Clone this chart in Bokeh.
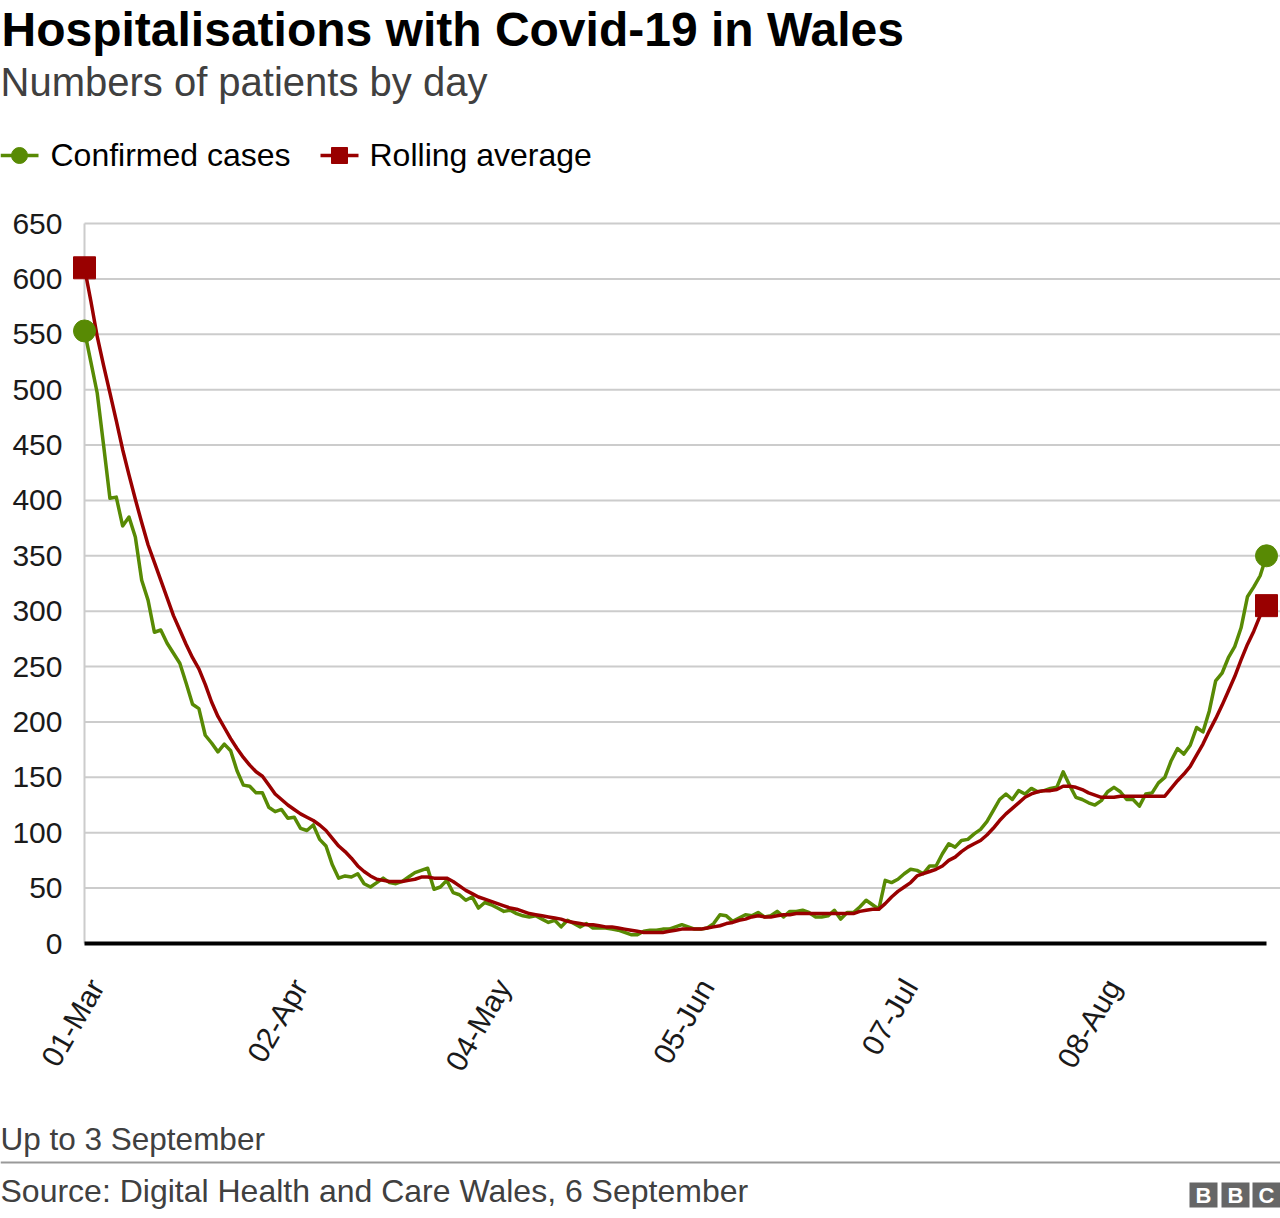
import math
from bokeh.plotting import figure
from bokeh.models import Range1d, FixedTicker, LinearAxis
from bokeh.layouts import column
from bokeh.embed import file_html
from bokeh.resources import INLINE
from bokeh.core.properties import value

# ---------------- data ----------------
tick_days = [0, 32, 64, 96, 128, 160]
tick_labels = ["01-Mar", "02-Apr", "04-May", "05-Jun", "07-Jul", "08-Aug"]
y_ticks = [0, 50, 100, 150, 200, 250, 300, 350, 400, 450, 500, 550, 600, 650]

confirmed = [
    553, 525, 497, 450, 402, 403, 377, 385, 367, 328,
    310, 281, 283, 271, 262, 253, 235, 216, 212, 188,
    181, 173, 180, 174, 156, 143, 142, 136, 136, 123,
    119, 121, 113, 114, 104, 102, 107, 94, 88, 71,
    59, 61, 60, 63, 54, 51, 55, 59, 55, 54,
    56, 60, 64, 66, 68, 49, 51, 57, 46, 44,
    39, 42, 32, 37, 35, 32, 29, 30, 27, 25,
    24, 25, 22, 19, 21, 15, 21, 18, 15, 18,
    14, 14, 14, 13, 12, 10, 8, 8, 11, 12,
    12, 13, 13, 15, 17, 15, 13, 13, 14, 18,
    26, 25, 20, 23, 26, 25, 28, 24, 25, 29,
    24, 29, 29, 30, 28, 24, 24, 25, 30, 22,
    28, 28, 33, 39, 35, 31, 57, 55, 58, 63,
    67, 66, 63, 70, 70, 81, 90, 87, 93, 94,
    99, 103, 110, 120, 130, 135, 130, 138, 135, 140,
    137, 138, 140, 141, 155, 143, 132, 130, 127, 125,
    129, 137, 141, 137, 130, 130, 124, 135, 136, 145,
    150, 165, 176, 171, 179, 195, 191, 210, 237, 244,
    258, 268, 285, 313, 322, 332, 350,
]

rolling = [
    610, 580, 548, 522, 497, 472, 446, 423, 401, 380,
    360, 344, 328, 312, 296, 283, 270, 258, 248, 234,
    218, 205, 195, 185, 176, 168, 161, 155, 151, 143,
    135, 130, 125, 121, 117, 114, 111, 107, 102, 95,
    88, 83, 77, 70, 65, 61, 58, 57, 56, 56,
    56, 57, 58, 60, 60, 59, 59, 59, 56, 52,
    48, 45, 42, 40, 38, 36, 34, 32, 31, 29,
    27, 26, 25, 24, 23, 22, 20, 19, 18, 17,
    17, 16, 15, 15, 14, 13, 12, 11, 10, 10,
    10, 10, 11, 12, 13, 13, 13, 13, 14, 15,
    16, 18, 19, 21, 22, 24, 25, 24, 24, 25,
    26, 26, 27, 27, 27, 27, 27, 27, 27, 27,
    27, 27, 29, 30, 31, 31, 36, 42, 47, 51,
    55, 61, 63, 65, 67, 70, 75, 78, 83, 87,
    90, 93, 98, 104, 111, 117, 122, 127, 132, 135,
    137, 138, 138, 139, 142, 142, 141, 139, 136, 134,
    132, 132, 132, 133, 133, 133, 133, 133, 133, 133,
    133, 140, 147, 153, 160, 170, 180, 192, 203, 215,
    228, 241, 256, 270, 282, 296, 305,
]

days = list(range(len(confirmed)))

GREEN = "#588a04"
RED = "#990000"
GRID = "#cccccc"
FONT = "Liberation Sans"
W = 1280


def blank(height):
    f = figure(width=W, height=height, x_range=Range1d(0, W), y_range=Range1d(height, 0),
               output_backend="svg", toolbar_location=None, min_border=0,
               x_axis_location=None, y_axis_location=None, frame_align=False)
    f.grid.visible = False
    f.outline_line_color = None
    return f


def txt(f, x, y, s, size, color="#000000", style="normal", align="left",
        baseline="alphabetic"):
    f.text(x=[x], y=[y], text=[s], text_font=value(FONT), text_font_size=size,
           text_font_style=style, text_color=color, text_align=align,
           text_baseline=baseline)


# ---------------- header ----------------
HH = 200
h = blank(HH)
txt(h, 1, 29, "Hospitalisations with Covid-19 in Wales", "48px", style="bold")
txt(h, 0, 81, "Numbers of patients by day", "40px", color="#404040")
h.segment(x0=[0], y0=[155], x1=[38], y1=[155], line_color=GREEN, line_width=3.5)
h.scatter(x=[19], y=[155], marker="circle", size=16, color=GREEN)
txt(h, 50, 154, "Confirmed cases", "32px")
h.segment(x0=[320], y0=[155], x1=[358], y1=[155], line_color=RED, line_width=3.5)
h.scatter(x=[339], y=[155], marker="square", size=16, color=RED)
txt(h, 369, 154, "Rolling average", "32px")

# ---------------- main chart ----------------
MH = 910
FL, FT, FB = 71, 217, 954          # frame left / top / bottom (page px)
px_day = 1182.0 / 186.0            # day 0 at x=84, last day at x=1266
x0 = -(84 - FL) / px_day
x1 = days[-1] + (W - 1266) / px_day
ky = 720.0 / 650.0                 # 0 at y=943, 650 at y=223
y1 = 650 + (223 - FT) / ky
y0 = -(FB - 943) / ky

p = figure(width=W, height=MH, x_range=Range1d(x0, x1), y_range=Range1d(y0, y1),
           output_backend="svg", toolbar_location=None, x_axis_location=None,
           min_border_left=FL, min_border_right=0, min_border_top=FT - HH,
           min_border_bottom=HH + MH - FB, frame_align=False)
p.outline_line_color = None
p.xgrid.visible = False
p.ygrid.visible = False

grid_vals = [v for v in y_ticks if v > 0]
p.segment(x0=[0] * len(grid_vals), y0=grid_vals, x1=[x1] * len(grid_vals), y1=grid_vals,
          line_color=GRID, line_width=2)
p.segment(x0=[0], y0=[0], x1=[0], y1=[y_ticks[-1]], line_color=GRID, line_width=2)
p.segment(x0=[0], y0=[0], x1=[days[-1]], y1=[0], line_color="#000000", line_width=4)

p.line(days, confirmed, line_color=GREEN, line_width=3.5, line_join="round")
p.line(days, rolling, line_color=RED, line_width=3.5, line_join="round")
p.scatter([days[0], days[-1]], [confirmed[0], confirmed[-1]], marker="circle",
          size=22, color=GREEN)
p.scatter([days[0], days[-1]], [rolling[0], rolling[-1]], marker="square",
          size=22, color=RED)

ya = p.yaxis[0]
ya.ticker = FixedTicker(ticks=y_ticks)
ya.major_label_standoff = 9

shift = 12.0 / px_day
p.extra_x_ranges = {"lab": Range1d(x0 - shift, x1 - shift)}
xa = LinearAxis(x_range_name="lab", ticker=FixedTicker(ticks=tick_days),
                major_label_overrides={d: l for d, l in zip(tick_days, tick_labels)})
xa.major_label_orientation = math.radians(60)
xa.major_label_standoff = 27
p.add_layout(xa, "below")

for ax in (xa, ya):
    ax.axis_line_color = None
    ax.major_tick_line_color = None
    ax.minor_tick_line_color = None
    ax.major_tick_out = 0
    ax.major_tick_in = 0
    ax.minor_tick_out = 0
    ax.minor_tick_in = 0
    ax.major_label_text_font = FONT
    ax.major_label_text_font_size = "30px"
    ax.major_label_text_color = "#1a1a1a"

# ---------------- footer ----------------
FH = 1218 - HH - MH
f = blank(FH)
top = HH + MH
txt(f, 0, 1138 - top, "Up to 3 September", "31.5px", color="#404040")
f.segment(x0=[0], y0=[1162 - top], x1=[W], y1=[1162 - top], line_color="#999999",
          line_width=2)
txt(f, 0, 1190 - top, "Source: Digital Health and Care Wales, 6 September", "32px",
    color="#404040")
bx = [1189, 1221, 1252]
f.quad(left=bx, right=[b + 28 for b in bx], top=[1182 - top] * 3,
       bottom=[1207 - top] * 3, fill_color="#666666", line_color=None)
f.text(x=[b + 14 for b in bx], y=[1195 - top] * 3, text=["B", "B", "C"],
       text_font=value(FONT), text_font_style="bold", text_font_size="22px",
       text_color="#ffffff", text_align="center", text_baseline="middle")

layout = column(h, p, f, spacing=0)
open("out.html", "w").write(file_html(layout, INLINE))
